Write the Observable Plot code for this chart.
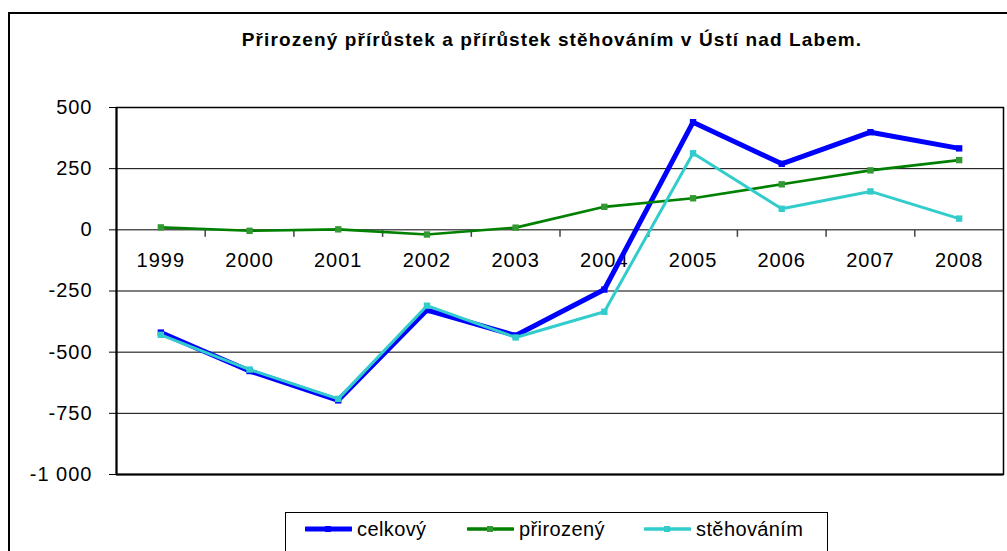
<!DOCTYPE html>
<html>
<head>
<meta charset="utf-8">
<script src="https://cdn.jsdelivr.net/npm/d3@7"></script>
<script src="https://cdn.jsdelivr.net/npm/@observablehq/plot@0.6"></script>
<style>
  html, body { margin: 0; padding: 0; background: white; }
  #wrap { position: relative; width: 1007px; height: 551px; overflow: hidden; font-family: "Liberation Sans", Arial, sans-serif; }
  #frame { position: absolute; left: 8px; top: 12px; width: 1100px; height: 700px; border: 2px solid black; box-sizing: border-box; pointer-events: none; }
  #title { position: absolute; left: 0; top: 30px; width: 1104px; text-align: center; font-weight: bold; font-size: 19px; line-height: 19px; letter-spacing: 1.1px; color: black; }
  #chart { position: absolute; left: 0; top: 0; }
  #chart text { letter-spacing: 1px; }
  #legend { position: absolute; left: 285px; top: 512px; width: 543px; height: 60px; border: 1px solid black; box-sizing: border-box; background: white; }
  .item { position: absolute; top: 0; height: 32px; display: flex; align-items: center; font-size: 20px; letter-spacing: 0.4px; color: black; }
  .item svg { margin-right: 5px; }
</style>
</head>
<body>
<div id="wrap">
  <div id="title">Přirozený přírůstek a přírůstek stěhováním v Ústí nad Labem.</div>
  <div id="chart"></div>
  <div id="frame"></div>
  <div id="legend"></div>
</div>
<script>
const years = [1999, 2000, 2001, 2002, 2003, 2004, 2005, 2006, 2007, 2008];
const celkovy = [-420, -577, -697, -328, -432, -244, 440, 270, 399, 333];
const prirozeny = [10, -4, 2, -19, 9, 94, 129, 186, 243, 285];
const stehovanim = [-429, -571, -691, -310, -440, -335, 313, 86, 157, 46];
const yTicks = [500, 250, 0, -250, -500, -750, -1000];
const seriesNames = ["celkový", "přirozený", "stěhováním"];

const cs = d3.formatLocale({decimal: ",", thousands: " ", grouping: [3], currency: ["", ""], minus: "-"});
const fmt = cs.format(",");

const rows = (vals) => years.map((y, i) => ({year: y, value: vals[i]}));
const dataC = rows(celkovy), dataP = rows(prirozeny), dataS = rows(stehovanim);
const boundaries = years.slice(0, -1).map(y => y + 0.5);

const tickSymbol = { draw(ctx) { ctx.moveTo(0, 0); ctx.lineTo(0, 7); } };

const styles = {
  "celkový": {stroke: "#0000ff", width: 5, marker: "#0000ff", r: 3.6},
  "přirozený": {stroke: "#008000", width: 2.6, marker: "#339933", r: 3.6},
  "stěhováním": {stroke: "#33cccc", width: 3, marker: "#33cccc", r: 3.6}
};
const seriesData = {"celkový": dataC, "přirozený": dataP, "stěhováním": dataS};

const lineMarks = seriesNames.flatMap(name => {
  const s = styles[name], d = seriesData[name];
  return [
    Plot.line(d, {x: "year", y: "value", stroke: s.stroke, strokeWidth: s.width, strokeLinejoin: "miter", strokeLinecap: "butt"}),
    Plot.dot(d, {x: "year", y: "value", symbol: "square", r: s.r, fill: s.marker, stroke: "none"})
  ];
});

const chart = Plot.plot({
  width: 1007,
  height: 551,
  marginLeft: 116,
  marginRight: 4,
  marginTop: 107,
  marginBottom: 77,
  style: {background: "transparent", fontFamily: "'Liberation Sans', Arial, sans-serif", color: "black", overflow: "visible"},
  x: {type: "linear", domain: [1998.5, 2008.5], axis: null},
  y: {domain: [-1000, 500], axis: null},
  marks: [
    Plot.ruleY(yTicks, {stroke: "black", strokeWidth: 1}),
    Plot.frame({stroke: "black", strokeWidth: 1.5}),
    Plot.ruleX([1998.5], {stroke: "black", strokeWidth: 2}),
    Plot.ruleY([-1000], {stroke: "black", strokeWidth: 2}),
    Plot.axisY(yTicks, {anchor: "left", tickSize: 7, tickPadding: 17, fontSize: 20, tickFormat: d => fmt(d), label: null, stroke: "black"}),
    Plot.dot(boundaries, {x: d => d, y: 0, symbol: tickSymbol, r: 3, stroke: "#444", strokeWidth: 1.5, fill: "none"}),
    Plot.text(years, {x: d => d, y: 0, dy: 31, text: d => String(d), fontSize: 20, fill: "black"}),
    ...lineMarks
  ]
});
document.getElementById("chart").appendChild(chart);

// legend (HTML)
const legend = document.getElementById("legend");
const legendX = {"celkový": 19, "přirozený": 181, "stěhováním": 358};
seriesNames.forEach(name => {
  const s = styles[name];
  const item = document.createElement("div");
  item.className = "item";
  item.style.left = legendX[name] + "px";
  item.innerHTML = `<svg width="47" height="12"><line x1="1" x2="46" y1="6" y2="6" stroke="${s.stroke}" stroke-width="${Math.max(s.width, 3.5)}" stroke-linecap="round"/><rect x="20" y="3" width="6" height="6" fill="${s.marker}"/></svg><span>${name}</span>`;
  legend.appendChild(item);
});
</script>
</body>
</html>
